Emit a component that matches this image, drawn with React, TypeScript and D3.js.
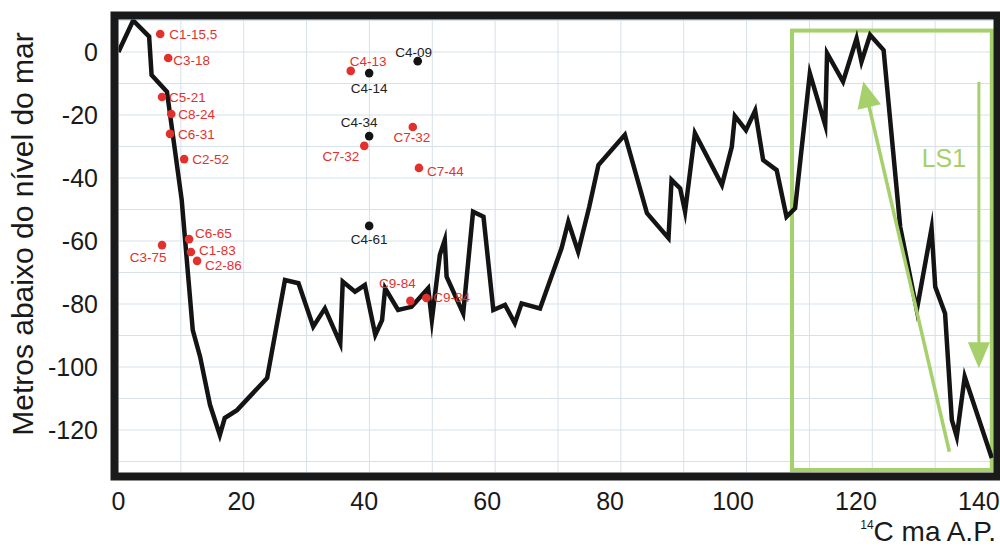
import React from 'react';
import * as d3 from 'd3';

// ---- data ----
const lineAge = [0, 2.4, 5.0, 5.4, 7.9, 10.3, 12.1, 13.3, 14.9, 16.5, 17.3, 19.3, 24.2, 27.1, 29.3, 31.7, 33.6, 36.1, 36.5, 38.5, 40.1, 41.8, 42.9, 43.4, 45.5, 47.7, 50.4, 51.0, 52.3, 53.1, 53.4, 56.1, 57.7, 59.4, 61.0, 62.9, 64.5, 65.6, 68.6, 72.1, 73.2, 74.8, 76.6, 78.1, 82.4, 86.0, 89.5, 90.0, 91.4, 92.2, 93.8, 98.2, 99.8, 100.3, 102.1, 103.6, 104.9, 107.1, 108.7, 110.1, 112.5, 115.0, 115.3, 117.9, 120.1, 120.9, 122.3, 124.5, 127.2, 129.9, 132.3, 132.9, 134.5, 135.6, 136.4, 137.7, 142.1];
const lineDepth = [0, 10, 4.9, -7.3, -12.6, -47, -88.3, -96.8, -112, -121.6, -116.2, -113.7, -103.5, -72.4, -73.4, -87.2, -81.4, -92.5, -72.9, -76.1, -74, -89.8, -85.1, -75, -81.9, -80.9, -75, -85.1, -64.4, -59.7, -71.3, -83, -50.7, -52.3, -81.9, -80.3, -86.1, -79.8, -81.4, -62.3, -53.9, -63.4, -49.2, -35.9, -26.3, -51.2, -59.1, -40.6, -43.3, -50.7, -25.8, -42.2, -30.1, -20.3, -24.8, -18.6, -34.3, -37.5, -52.3, -49.6, -6.8, -23.2, -0.4, -9.4, 4.3, -3.1, 5.4, 0.6, -55.5, -81.9, -56, -74.5, -83, -116.8, -122.1, -103.1, -128.9];

const redNames = ['C1-15,5', 'C3-18', 'C5-21', 'C8-24', 'C6-31', 'C2-52', 'C6-65', 'C1-83', 'C2-86', 'C3-75', 'C4-13', 'C7-32', 'C7-32', 'C7-44', 'C9-84', 'C9-84'];
const redAge = [6.8, 8.1, 7.1, 8.6, 8.4, 10.7, 11.5, 11.8, 12.8, 7.1, 37.8, 40.0, 47.9, 48.9, 47.5, 50.1];
const redDepth = [5.7, -1.9, -14.3, -19.7, -26.0, -34.0, -59.4, -63.5, -66.3, -61.3, -6.0, -29.8, -23.8, -36.8, -79.0, -78.1];

const blackNames = ['C4-09', 'C4-14', 'C4-34', 'C4-61'];
const blackAge = [48.7, 40.8, 40.8, 40.8];
const blackDepth = [-2.9, -6.7, -26.7, -55.2];

const xTicks = [0, 20, 40, 60, 80, 100, 120, 140];
const yTicks = [0, -20, -40, -60, -80, -100, -120];

const lsBoxAge = [109.6, 142.1];
const lsBoxDepth = [6.8, -132.7];
const lsDiagArrowAge = [135.2, 121.2];
const lsDiagArrowDepth = [-126.9, -9.4];
const lsVertArrowAge = [140.0, 140.0];
const lsVertArrowDepth = [-9.5, -100.4];
const lsLabel = 'LS1';

// ---- label placement (dx, dy, anchor) ----
const redLabelPos: [number, number, string][] = [
  [9, 0, 'start'], [5, 2, 'start'], [7, 0, 'start'], [7, 0, 'start'], [8, 0, 'start'], [8, 0, 'start'],
  [6, -6, 'start'], [8, -2, 'start'], [8, 4, 'start'], [-14, 12, 'middle'], [-1, -10, 'start'],
  [-5, 10, 'end'], [-1, 10, 'middle'], [8, 3, 'start'], [-13, -18, 'middle'], [7, -1, 'start'],
];
const blackLabelPos: [number, number, string][] = [
  [-4, -9, 'middle'], [0, 15, 'middle'], [-10, -14, 'middle'], [0, 13, 'middle'],
];

const FONT = '"Liberation Sans", Arial, Helvetica, sans-serif';
const RED = '#e2312d';
const GREEN = '#a6d06b';

export default function App() {
  const W = 1000, H = 551;
  const x = d3.scaleLinear().domain([0, 142.2]).range([118.4, 992.4]);
  const y = d3.scaleLinear().domain([0, -120]).range([52, 430]);
  const gridX = d3.scaleLinear().domain([0, 14]).range([118, 998]);

  const inner = { x0: 118.5, y0: 19.5, x1: 993.5, y1: 472.5 };

  const pts: [number, number][] = lineAge.map((a, i) => [a, lineDepth[i]]);
  const line = d3.line<[number, number]>().x(d => x(d[0])).y(d => y(d[1]));

  const hGrid = d3.range(10, -140, -10);
  const vGrid = d3.range(0, 15);

  const arrow = (ax: number[], ay: number[], len: number, hw: number) => {
    const x0 = x(ax[0]), y0 = y(ay[0]), x1 = x(ax[1]), y1 = y(ay[1]);
    const dx = x1 - x0, dy = y1 - y0;
    const L = Math.hypot(dx, dy);
    const ux = dx / L, uy = dy / L;
    const bx = x1 - ux * len, by = y1 - uy * len;
    const px = -uy, py = ux;
    return {
      shaft: `M${x0},${y0}L${bx + ux * 2},${by + uy * 2}`,
      head: `M${x1},${y1}L${bx + px * hw},${by + py * hw}L${bx - px * hw},${by - py * hw}Z`,
    };
  };
  const diag = arrow(lsDiagArrowAge, lsDiagArrowDepth, 26, 12);
  const vert = arrow(lsVertArrowAge, lsVertArrowDepth, 26, 11);

  return (
    <svg width={W} height={H} style={{ position: 'absolute', left: 0, top: 0, background: '#fff' }} fontFamily={FONT}>
      <defs>
        <clipPath id="plotClip">
          <rect x={inner.x0} y={inner.y0} width={inner.x1 - inner.x0} height={inner.y1 - inner.y0} />
        </clipPath>
      </defs>
      <rect x={0} y={0} width={W} height={H} fill="#fff" />
      <g clipPath="url(#plotClip)">
        {hGrid.map(v => (
          <line key={'h' + v} x1={inner.x0} x2={inner.x1} y1={y(v)} y2={y(v)} stroke="#d6e1ea" strokeWidth={1} />
        ))}
        {vGrid.map(v => (
          <line key={'v' + v} x1={gridX(v)} x2={gridX(v)} y1={inner.y0} y2={inner.y1} stroke="#d6e1ea" strokeWidth={1} />
        ))}
      </g>

      {/* LS1 box */}
      <rect x={x(lsBoxAge[0])} y={y(lsBoxDepth[0])} width={x(lsBoxAge[1]) - x(lsBoxAge[0])} height={y(lsBoxDepth[1]) - y(lsBoxDepth[0])}
        fill="none" stroke={GREEN} strokeWidth={4} />

      <g clipPath="url(#plotClip)">
        <path d={line(pts) || ''} fill="none" stroke="#141414" strokeWidth={4.5} strokeLinejoin="miter" strokeMiterlimit={10} />
      </g>

      {/* arrows */}
      <path d={diag.shaft} stroke={GREEN} strokeWidth={3.5} fill="none" />
      <path d={diag.head} fill={GREEN} />
      <path d={vert.shaft} stroke={GREEN} strokeWidth={3} fill="none" />
      <path d={vert.head} fill={GREEN} />
      <text x={(x(lsBoxAge[1]) + x(lsBoxAge[0])) / 2 + 52} y={167} fontSize={25} fill={GREEN} textAnchor="middle">{lsLabel}</text>

      {/* points */}
      {redNames.map((n, i) => {
        const cx = x(redAge[i]), cy = y(redDepth[i]);
        const [dx, dy, anchor] = redLabelPos[i];
        return (
          <g key={'r' + i}>
            <circle cx={cx} cy={cy} r={4.3} fill={RED} />
            <text x={cx + dx} y={cy + dy} dy="0.36em" fontSize={13.5} fill={RED} textAnchor={anchor as any}>{n}</text>
          </g>
        );
      })}
      {blackNames.map((n, i) => {
        const cx = x(blackAge[i]), cy = y(blackDepth[i]);
        const [dx, dy, anchor] = blackLabelPos[i];
        return (
          <g key={'b' + i}>
            <circle cx={cx} cy={cy} r={4.3} fill="#141414" />
            <text x={cx + dx} y={cy + dy} dy="0.36em" fontSize={13.5} fill="#222" textAnchor={anchor as any}>{n}</text>
          </g>
        );
      })}

      {/* frame */}
      <rect x={114.5} y={15.5} width={883} height={461} fill="none" stroke="#1a1a1a" strokeWidth={8} />

      {/* y ticks */}
      {yTicks.map(v => (
        <text key={'yt' + v} x={98} y={y(v)} dy="0.36em" fontSize={25} textAnchor="end" fill="#1a1a1a">{v}</text>
      ))}
      {/* x ticks */}
      {xTicks.map(v => (
        <text key={'xt' + v} x={x(v)} y={510} fontSize={25} textAnchor="middle" fill="#1a1a1a">{v}</text>
      ))}

      {/* axis titles */}
      <text transform="translate(33,234) rotate(-90)" x={0} y={0} fontSize={30} textAnchor="middle" fill="#1a1a1a">Metros abaixo do nível do mar</text>
      <text x={996} y={541} fontSize={28} textAnchor="end" fill="#1a1a1a">
        <tspan fontSize={12} dy={-12}>14</tspan>
        <tspan dy={12}>C ma A.P.</tspan>
      </text>
    </svg>
  );
}
